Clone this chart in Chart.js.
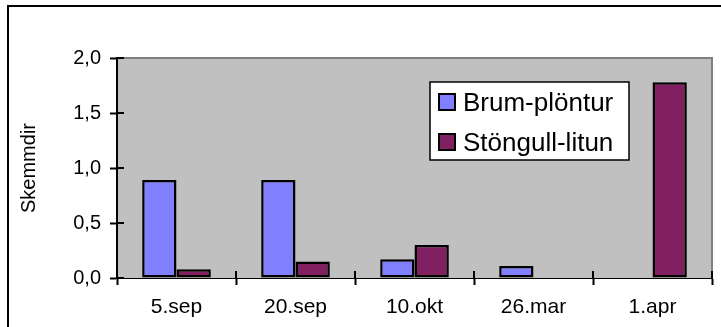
<!DOCTYPE html>
<html>
<head>
<meta charset="utf-8">
<script src="https://cdn.jsdelivr.net/npm/chart.js@4/dist/chart.umd.min.js"></script>
<style>
  html, body { margin: 0; padding: 0; background: #fff; overflow: hidden; }
  #wrap { position: relative; width: 721px; height: 327px; }
  #frame { position: absolute; left: 7px; top: 5px; width: 1000px; height: 1000px;
           border-left: 2px solid #000; border-top: 2px solid #000; pointer-events: none; }
  canvas { position: absolute; left: 0; top: 0; }
</style>
</head>
<body>
<div id="wrap">
  <canvas id="c" width="721" height="327"></canvas>
  <div id="frame"></div>
</div>
<script>
// Sampling dates and damage scores per series
const categories = ['5.sep', '20.sep', '10.okt', '26.mar', '1.apr'];
const brumPlontur = [0.89, 0.89, 0.17, 0.11, null];
const stongullLitun = [0.08, 0.15, 0.30, null, 1.78];
const seriesNames = ['Brum-plöntur', 'Stöngull-litun'];
const seriesColors = ['#8080FF', '#802060'];
const yTickLabels = ['0,0', '0,5', '1,0', '1,5', '2,0'];
const yTitle = 'Skemmdir';

const FONT = '"Liberation Sans", Arial, sans-serif';

// Grey plot area with darker top/right edge
const plotBackground = {
  id: 'plotBackground',
  beforeDraw(chart) {
    const { ctx, chartArea: a } = chart;
    ctx.save();
    ctx.fillStyle = '#C0C0C0';
    ctx.fillRect(a.left, a.top, a.right - a.left, a.bottom - a.top);
    ctx.strokeStyle = '#808080';
    ctx.lineWidth = 2;
    ctx.beginPath();
    ctx.moveTo(a.left, a.top);
    ctx.lineTo(a.right, a.top);
    ctx.lineTo(a.right, a.bottom);
    ctx.stroke();
    ctx.restore();
  }
};

// Inner half of the cross-style tick marks
const crossTicks = {
  id: 'crossTicks',
  afterDatasetsDraw(chart) {
    const { ctx, chartArea: a, scales } = chart;
    ctx.save();
    ctx.strokeStyle = '#000';
    ctx.lineWidth = 2;
    ctx.beginPath();
    scales.y.ticks.forEach(t => {
      const y = scales.y.getPixelForValue(t.value);
      ctx.moveTo(a.left, y);
      ctx.lineTo(a.left + 7, y);
    });
    for (let i = 0; i <= categories.length; i++) {
      const x = scales.x.getPixelForValue(i - 0.5);
      ctx.moveTo(x, a.bottom);
      ctx.lineTo(x, a.bottom - 7);
    }
    ctx.stroke();
    ctx.restore();
  }
};

// Boxed legend inside the plot area
const boxLegend = {
  id: 'boxLegend',
  afterDraw(chart) {
    const { ctx, chartArea: a } = chart;
    const bx = a.left + 313, by = a.top + 24, bw = 199, bh = 78;
    ctx.save();
    ctx.fillStyle = '#fff';
    ctx.fillRect(bx, by, bw, bh);
    ctx.strokeStyle = '#000';
    ctx.lineWidth = 1.5;
    ctx.strokeRect(bx, by, bw, bh);
    ctx.font = '26px ' + FONT;
    ctx.textBaseline = 'alphabetic';
    ctx.textAlign = 'left';
    chart.data.datasets.forEach((ds, i) => {
      const my = by + 12 + i * 40;
      ctx.fillStyle = ds.backgroundColor;
      ctx.fillRect(bx + 9, my, 16, 16);
      ctx.strokeStyle = '#000';
      ctx.lineWidth = 2;
      ctx.strokeRect(bx + 9, my, 16, 16);
      ctx.fillStyle = '#000';
      ctx.fillText(ds.label, bx + 33, my + 17);
    });
    ctx.restore();
  }
};

new Chart(document.getElementById('c'), {
  type: 'bar',
  data: {
    labels: categories,
    datasets: [
      { label: seriesNames[0], data: brumPlontur, backgroundColor: seriesColors[0] },
      { label: seriesNames[1], data: stongullLitun, backgroundColor: seriesColors[1] }
    ].map(d => Object.assign(d, {
      borderColor: '#000', borderWidth: 2.5, borderSkipped: false,
      categoryPercentage: 0.577, barPercentage: 1
    }))
  },
  options: {
    responsive: false,
    animation: false,
    devicePixelRatio: 1,
    layout: { padding: { left: 0, top: 58, right: 9, bottom: 0 } },
    plugins: { legend: { display: false }, tooltip: { enabled: false } },
    scales: {
      x: {
        afterFit(s) { s.height = 49; },
        grid: { drawOnChartArea: false, drawTicks: true, tickLength: 7, tickColor: '#000', tickWidth: 2 },
        border: { color: '#000', width: 1 },
        ticks: { color: '#000', font: { family: FONT, size: 21 }, padding: 10 }
      },
      y: {
        min: 0, max: 2,
        afterFit(s) { s.width = 117; },
        grid: { drawOnChartArea: false, drawTicks: true, tickLength: 7, tickColor: '#000', tickWidth: 2 },
        border: { color: '#000', width: 2 },
        ticks: {
          stepSize: 0.5, color: '#000', padding: 9,
          font: { family: FONT, size: 20 },
          callback: (v, i) => yTickLabels[i]
        },
        title: {
          display: true, text: yTitle, color: '#000',
          font: { family: FONT, size: 20, lineHeight: 1.2 },
          padding: { top: 17.5, bottom: 0 }
        }
      }
    }
  },
  plugins: [plotBackground, crossTicks, boxLegend]
});
</script>
</body>
</html>
